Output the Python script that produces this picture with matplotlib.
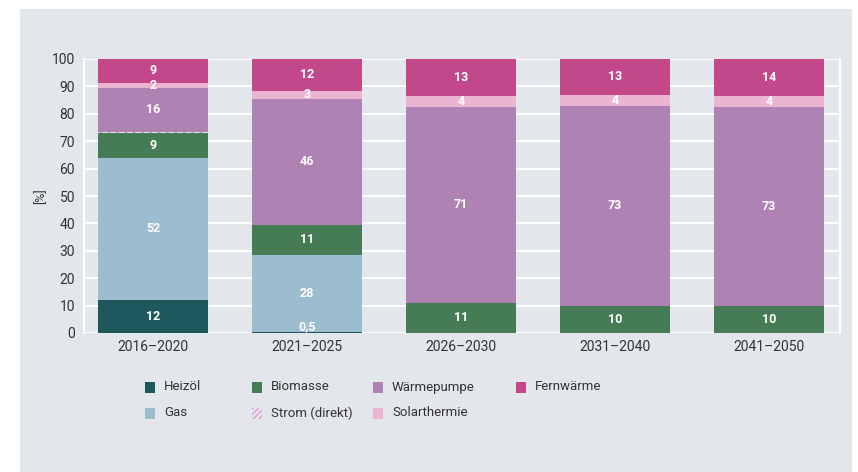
import matplotlib.pyplot as plt
from matplotlib.patches import Rectangle
import numpy as np

# Data (share in %, per period)
periods = ["2016–2020", "2021–2025", "2026–2030", "2031–2040", "2041–2050"]
heizoel = [12, 0.5, 0, 0, 0]
gas = [52, 28, 0, 0, 0]
biomasse = [9, 11, 11, 10, 10]
strom = [0.4, 0, 0, 0, 0]
waermepumpe = [16, 46, 71.5, 73, 72.5]
solarthermie = [2, 3, 4, 4, 4]
fernwaerme = [9, 12, 13.5, 13, 13.5]

# Labels printed on the segments
heizoel_lbl = ["12", "0,5", "", "", ""]
gas_lbl = ["52", "28", "", "", ""]
biomasse_lbl = ["9", "11", "11", "10", "10"]
waermepumpe_lbl = ["16", "46", "71", "73", "73"]
solarthermie_lbl = ["2", "3", "4", "4", "4"]
fernwaerme_lbl = ["9", "12", "13", "13", "14"]

plt.rcParams["font.family"] = ["Roboto", "DejaVu Sans"]

fig = plt.figure(figsize=(8.58, 4.72), dpi=100)
fig.patch.set_facecolor("white")
# grey panel behind everything
fig.patches.append(Rectangle((20 / 858, 0), 832 / 858, 1 - 9 / 472,
                             transform=fig.transFigure, facecolor="#e3e6ea",
                             edgecolor="none", zorder=-10))

ax = fig.add_axes([84 / 858, 1 - 333 / 472, 756 / 858, 274 / 472])
ax.set_facecolor("none")

x = np.arange(len(periods))
w = 0.715

series = [
    ("Heizöl", heizoel, "#1e585c", heizoel_lbl),
    ("Gas", gas, "#9cbdd0", gas_lbl),
    ("Biomasse", biomasse, "#457b55", biomasse_lbl),
    ("Strom (direkt)", strom, "#efe2f0", None),
    ("Wärmepumpe", waermepumpe, "#ae83b3", waermepumpe_lbl),
    ("Solarthermie", solarthermie, "#ebb4d0", solarthermie_lbl),
    ("Fernwärme", fernwaerme, "#c2488a", fernwaerme_lbl),
]

bottom = np.zeros(len(periods))
for name, vals, col, lbls in series:
    vals = np.array(vals, dtype=float)
    if name == "Strom (direkt)":
        ax.bar(x, vals, w, bottom=bottom, color=col, hatch="////",
               edgecolor="#ae83b3", linewidth=0, zorder=3)
    else:
        ax.bar(x, vals, w, bottom=bottom, color=col, edgecolor="none", zorder=3)
    if lbls:
        for i, v in enumerate(vals):
            if lbls[i] == "":
                continue
            yc = bottom[i] + v / 2
            if lbls[i] == "0,5":
                yc = 2.3
            ax.text(x[i], yc, lbls[i], ha="center", va="center", color="white",
                    fontsize=9, fontweight="bold", zorder=5)
    bottom += vals

ax.set_xlim(-0.45, 4.46)
ax.set_ylim(0, 100)
ax.set_yticks(range(0, 101, 10))
ax.set_xticks(x)
ax.set_xticklabels(periods)
ax.tick_params(axis="both", length=0, labelsize=10, colors="#333333")
ax.tick_params(axis="y", pad=6.5)
ax.tick_params(axis="x", pad=5)
ax.yaxis.grid(True, color="white", linewidth=1.4, zorder=1)
ax.set_axisbelow(True)
for s in ["top", "bottom"]:
    ax.spines[s].set_visible(False)
for s in ["left", "right"]:
    ax.spines[s].set_color("white")
    ax.spines[s].set_linewidth(1.4)
ax.set_ylabel("[%]", fontsize=9, color="#333333", labelpad=3)

# manual legend
leg_items = [
    ("Heizöl", "#1e585c", 145, 387, False),
    ("Biomasse", "#457b55", 252, 387, False),
    ("Wärmepumpe", "#ae83b3", 373, 387, False),
    ("Fernwärme", "#c2488a", 516, 387, False),
    ("Gas", "#9cbdd0", 145, 413, False),
    ("Strom (direkt)", "#efe2f0", 252, 413, True),
    ("Solarthermie", "#ebb4d0", 373, 413, False),
]
for name, col, px, py, hatched in leg_items:
    r = Rectangle((px / 858, 1 - (py + 5.5) / 472), 10 / 858, 11 / 472,
                  transform=fig.transFigure, facecolor=col,
                  edgecolor="#c9a9cf" if hatched else "none",
                  hatch="//////" if hatched else None, linewidth=0, zorder=2)
    fig.patches.append(r)
    fig.text((px + 19) / 858, 1 - py / 472, name, ha="left", va="center",
             fontsize=9.5, color="#333333")

fig.savefig("out.png", dpi=100)
